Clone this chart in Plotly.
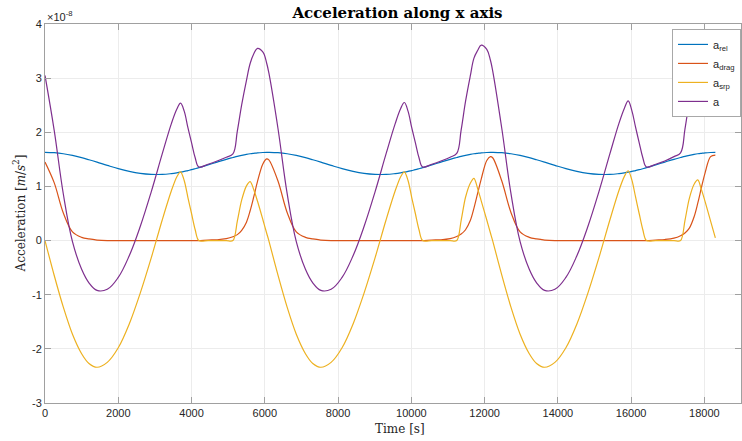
import plotly.graph_objects as go

# Time samples [s], three orbits
time_s = [
    0, 250, 500, 750, 1000, 1200, 1420, 1700, 2000, 2300, 2600, 2900, 3200, 3450, 3600, 3700, 3800,
    3900, 4000, 4100, 4200, 4450, 4700, 4950, 5130, 5250, 5370, 5500, 5600, 5700, 5800, 5950, 6050,
    6110, 6360, 6610, 6860, 7110, 7310, 7530, 7810, 8110, 8410, 8710, 9010, 9310, 9560, 9710, 9810, 9910,
    10010, 10110, 10210, 10310, 10560, 10810, 11060, 11240, 11360, 11480, 11610, 11710, 11810, 11910, 12060, 12160,
    12220, 12470, 12720, 12970, 13220, 13420, 13640, 13920, 14220, 14520, 14820, 15120, 15420, 15670, 15820, 15920, 16020,
    16120, 16220, 16320, 16420, 16670, 16920, 17170, 17350, 17470, 17590, 17720, 17820, 17920, 18020, 18170, 18300,
]

# Accelerations in units of 1e-8 m/s^2
a_rel = [
    1.630, 1.623, 1.604, 1.572, 1.531, 1.493, 1.448, 1.389, 1.329, 1.279, 1.242, 1.223, 1.222, 1.237, 1.251, 1.263, 1.277,
    1.293, 1.309, 1.327, 1.346, 1.397, 1.450, 1.501, 1.534, 1.555, 1.573, 1.591, 1.603, 1.612, 1.620, 1.627, 1.630,
    1.630, 1.623, 1.604, 1.572, 1.531, 1.493, 1.448, 1.389, 1.329, 1.279, 1.242, 1.223, 1.222, 1.237, 1.251, 1.263, 1.277,
    1.293, 1.309, 1.327, 1.346, 1.397, 1.450, 1.501, 1.534, 1.555, 1.573, 1.591, 1.603, 1.612, 1.620, 1.627, 1.630,
    1.630, 1.623, 1.604, 1.572, 1.531, 1.493, 1.448, 1.389, 1.329, 1.279, 1.242, 1.223, 1.222, 1.237, 1.251, 1.263, 1.277,
    1.293, 1.309, 1.327, 1.346, 1.397, 1.450, 1.501, 1.534, 1.555, 1.573, 1.591, 1.603, 1.612, 1.620, 1.627, 1.630,
]

a_drag = [
    1.45, 1.07, 0.51, 0.16, 0.06, 0.03, 0.01, 0.00, 0.00, 0.00, 0.00, 0.00, 0.00, 0.00, 0.00, 0.00, 0.00,
    0.00, 0.00, 0.00, 0.00, 0.01, 0.015, 0.035, 0.07, 0.11, 0.19, 0.34, 0.55, 0.81, 1.09, 1.42, 1.51,
    1.49, 1.10, 0.52, 0.16, 0.06, 0.03, 0.01, 0.00, 0.00, 0.00, 0.00, 0.00, 0.00, 0.00, 0.00, 0.00, 0.00,
    0.00, 0.00, 0.00, 0.00, 0.01, 0.015, 0.036, 0.075, 0.12, 0.20, 0.37, 0.60, 0.87, 1.14, 1.48, 1.55,
    1.53, 1.10, 0.52, 0.16, 0.06, 0.03, 0.01, 0.00, 0.00, 0.00, 0.00, 0.00, 0.00, 0.00, 0.00, 0.00, 0.00,
    0.00, 0.00, 0.00, 0.00, 0.01, 0.02, 0.045, 0.09, 0.14, 0.23, 0.44, 0.69, 0.98, 1.25, 1.55, 1.58,
]

a_srp = [
    0.00, -0.64, -1.23, -1.73, -2.09, -2.27, -2.34, -2.25, -1.98, -1.54, -0.97, -0.32, 0.38, 0.92, 1.18, 1.27, 1.11,
    0.80, 0.50, 0.20, 0.00, 0.00, 0.00, 0.00, 0.00, 0.36, 0.75, 1.01, 1.09, 0.94, 0.73, 0.38, 0.14,
    0.00, -0.64, -1.23, -1.73, -2.09, -2.27, -2.34, -2.25, -1.98, -1.54, -0.97, -0.32, 0.38, 0.92, 1.18, 1.27, 1.11,
    0.80, 0.50, 0.20, 0.00, 0.00, 0.00, 0.00, 0.00, 0.37, 0.80, 1.06, 1.15, 0.96, 0.73, 0.38, 0.14,
    0.00, -0.64, -1.23, -1.73, -2.09, -2.27, -2.34, -2.25, -1.98, -1.54, -0.97, -0.32, 0.38, 0.93, 1.19, 1.29, 1.12,
    0.81, 0.50, 0.20, 0.00, 0.00, 0.00, 0.00, 0.00, 0.37, 0.78, 1.04, 1.12, 0.94, 0.72, 0.36, 0.05,
]

a_total = [
    3.05, 2.04, 0.86, -0.02, -0.53, -0.78, -0.92, -0.90, -0.68, -0.28, 0.26, 0.90, 1.60, 2.16, 2.43, 2.54, 2.39,
    2.09, 1.81, 1.53, 1.36, 1.41, 1.47, 1.54, 1.60, 2.02, 2.51, 2.96, 3.27, 3.45, 3.55, 3.48, 3.28,
    3.10, 2.07, 0.87, -0.02, -0.53, -0.78, -0.92, -0.90, -0.68, -0.28, 0.26, 0.90, 1.60, 2.16, 2.44, 2.55, 2.39,
    2.09, 1.81, 1.53, 1.36, 1.41, 1.47, 1.54, 1.61, 2.04, 2.57, 3.04, 3.37, 3.51, 3.61, 3.53, 3.33,
    3.14, 2.07, 0.87, -0.02, -0.53, -0.78, -0.92, -0.90, -0.68, -0.28, 0.26, 0.90, 1.60, 2.17, 2.45, 2.58, 2.40,
    2.10, 1.81, 1.53, 1.36, 1.41, 1.47, 1.55, 1.62, 2.06, 2.58, 3.07, 3.41, 3.53, 3.59, 3.54, 3.27,
]

x_ticks = [0, 2000, 4000, 6000, 8000, 10000, 12000, 14000, 16000, 18000]
y_ticks = [-3, -2, -1, 0, 1, 2, 3, 4]

series = [
    ("a<sub>rel</sub>", a_rel, "#0072BD", 1.2),
    ("a<sub>drag</sub>", a_drag, "#D95319", 1.0),
    ("a<sub>srp</sub>", a_srp, "#EDB120", 0.9),
    ("a", a_total, "#7E2F8E", 1.1),
]

fig = go.Figure()
for name, values, color, smooth in series:
    fig.add_trace(go.Scatter(
        x=time_s, y=values, mode="lines", name=name,
        line=dict(color=color, width=1.2, shape="spline", smoothing=smooth),
    ))

axis_common = dict(
    showline=True, linecolor="#a0a0a0", linewidth=1, mirror="ticks",
    ticks="inside", ticklen=6, tickcolor="#a0a0a0", tickwidth=1,
    showgrid=True, gridcolor="#ececec", gridwidth=1, zeroline=False,
    tickfont=dict(family="Liberation Sans", size=11, color="#262626"),
)

fig.update_layout(
    width=742, height=441,
    margin=dict(l=45, r=1, t=24, b=38),
    paper_bgcolor="white", plot_bgcolor="white",
    title=dict(
        text="<b>Acceleration along x axis</b>",
        font=dict(family="DejaVu Serif", size=15, color="#000000"),
        x=0.5357, xanchor="center", y=0.9705, yanchor="middle", yref="container",
    ),
    xaxis=dict(range=[0, 19000], tickvals=x_ticks, ticktext=[str(v) for v in x_ticks],
               ticklabelstandoff=0, **axis_common),
    yaxis=dict(range=[-3, 4], tickvals=y_ticks, ticktext=[str(v) for v in y_ticks], **axis_common),
    legend=dict(
        x=1, xanchor="right", y=0.987, yanchor="top",
        bgcolor="white", bordercolor="#a8a8a8", borderwidth=1,
        font=dict(family="Liberation Sans", size=11, color="#262626"),
        itemwidth=30, tracegroupgap=0,
    ),
    showlegend=True,
    annotations=[
        dict(text="Acceleration [<i>m</i>/<i>s</i><sup>2</sup>]", xref="paper", yref="paper",
             x=-0.0374, y=0.5, xanchor="center", yanchor="middle", textangle=-90, showarrow=False,
             font=dict(family="DejaVu Serif", size=12, color="#262626")),
        dict(text="Time [s]", xref="paper", yref="paper",
             x=0.51, y=-0.068, xanchor="center", yanchor="middle", showarrow=False,
             font=dict(family="DejaVu Serif", size=12, color="#262626")),
        dict(text="×10<sup>-8</sup>", xref="paper", yref="paper",
             x=0, y=1.021, xanchor="left", yanchor="middle", showarrow=False,
             font=dict(family="Liberation Sans", size=11, color="#262626")),
    ],
)

fig.write_html("out.html")
